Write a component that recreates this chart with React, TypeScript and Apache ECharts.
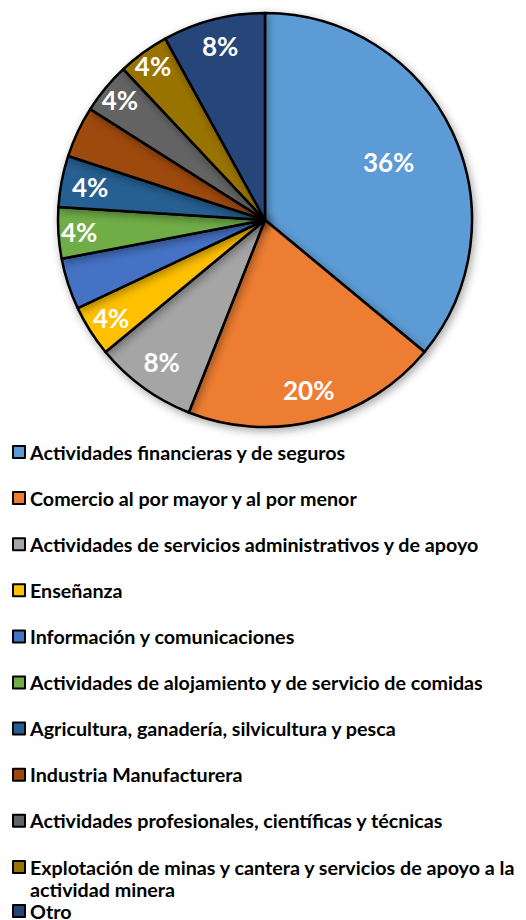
import React, { useEffect, useRef } from "react";
import * as echarts from "echarts";

const categories = [
  "Actividades financieras y de seguros",
  "Comercio al por mayor y al por menor",
  "Actividades de servicios administrativos y de apoyo",
  "Enseñanza",
  "Información y comunicaciones",
  "Actividades de alojamiento y de servicio de comidas",
  "Agricultura, ganadería, silvicultura y pesca",
  "Industria Manufacturera",
  "Actividades profesionales, científicas y técnicas",
  "Explotación de minas y cantera y servicios de apoyo a la actividad minera",
  "Otro",
];

const values = [36, 20, 8, 4, 4, 4, 4, 4, 4, 4, 8];

const showLabel = [true, true, true, true, false, true, true, false, true, true, true];

const colors = [
  "#5B9BD5",
  "#ED7D31",
  "#A5A5A5",
  "#FFC000",
  "#4472C4",
  "#70AD47",
  "#255E91",
  "#9E480E",
  "#636363",
  "#997300",
  "#264478",
];

// label distance from the centre as a fraction of the radius
const labelRadiusFrac = [0.66, 0.85, 0.85, 0.88, 0.88, 0.9, 0.86, 0.88, 0.91, 0.92, 0.87];

const CX = 265;
const CY = 220;
const R = 207;
const FONT = "Lato, 'Open Sans', sans-serif";

export default function App() {
  const ref = useRef<HTMLDivElement>(null);

  useEffect(() => {
    document.body.style.margin = "0";
    if (!ref.current) return;
    const chart = echarts.init(ref.current, undefined, { renderer: "svg" });

    const data = categories.map((name, i) => ({
      name,
      value: values[i],
      itemStyle: { color: colors[i] },
      label: { show: showLabel[i] },
    }));

    const legendText = {
      fontFamily: FONT,
      fontWeight: "bold" as const,
      fontSize: 19.7,
      color: "#000",
      lineHeight: 22,
    };

    const legendBase = {
      orient: "vertical",
      left: 12,
      padding: 0,
      itemWidth: 12,
      itemHeight: 12,
      icon: "rect",
      selectedMode: false,
      itemStyle: { borderColor: "#000", borderWidth: 2 },
      textStyle: legendText,
    };

    const option = {
      animation: false,
      backgroundColor: "#ffffff",
      legend: [
        {
          ...legendBase,
          top: 441,
          height: 470,
          itemGap: 24.1,
          data: categories.slice(0, 9),
        },
        {
          ...legendBase,
          top: 834,
          textStyle: { ...legendText, lineHeight: 22 },
          formatter: () =>
            "\nExplotación de minas y cantera y servicios de apoyo a la\nactividad minera",
          data: [categories[9]],
        },
        {
          ...legendBase,
          top: 901,
          textStyle: { ...legendText, lineHeight: 18 },
          data: [categories[10]],
        },
      ],
      series: [
        {
          type: "pie",
          center: [CX, CY],
          radius: R,
          startAngle: 90,
          clockwise: true,
          avoidLabelOverlap: false,
          data,
          itemStyle: {
            borderColor: "#000",
            borderWidth: 2.5,
            shadowBlur: 8,
            shadowOffsetX: 2,
            shadowOffsetY: 3,
            shadowColor: "rgba(0,0,0,0.35)",
          },
          label: {
            position: "inside",
            color: "#fff",
            fontFamily: FONT,
            fontWeight: "bold",
            fontSize: 26,
            formatter: (p: any) => Math.round(p.percent) + "%",
          },
          labelLine: { show: false },
          labelLayout: (p: any) => {
            const r = p.labelRect;
            const lx = r.x + r.width / 2;
            const ly = r.y + r.height / 2;
            const dx = lx - CX;
            const dy = ly - CY;
            const d = Math.sqrt(dx * dx + dy * dy) || 1;
            const target = labelRadiusFrac[p.dataIndex] * R;
            return {
              dx: (dx / d) * (target - d),
              dy: (dy / d) * (target - d),
            };
          },
          emphasis: { disabled: true },
        },
      ],
    };

    chart.setOption(option as any);
    return () => chart.dispose();
  }, []);

  return <div ref={ref} style={{ width: 526, height: 920 }} />;
}
